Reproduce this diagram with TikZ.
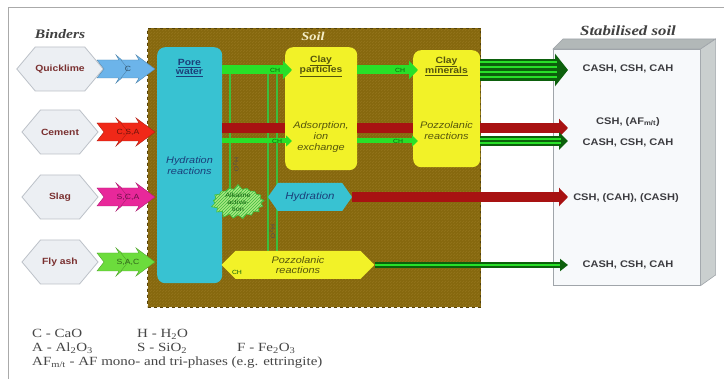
\documentclass[tikz,border=0pt]{standalone}
\usepackage{fontspec}
\setmainfont{Liberation Serif}[FakeStretch=1.2]
\newfontfamily\sfw{Liberation Sans}[FakeStretch=1.15]
\usetikzlibrary{shapes.symbols,shapes.geometric,arrows.meta,patterns,calc}
\definecolor{soilc}{RGB}{134,104,14}
\definecolor{soilh}{RGB}{148,117,28}
\definecolor{soild}{RGB}{80,62,8}
\definecolor{cyanb}{RGB}{56,194,210}
\definecolor{yel}{RGB}{242,242,40}
\definecolor{gbr}{RGB}{40,224,40}
\definecolor{gdk}{RGB}{12,96,12}
\definecolor{gln}{RGB}{60,190,60}
\definecolor{dred}{RGB}{168,18,18}
\definecolor{hexf}{RGB}{236,239,243}
\definecolor{hexd}{RGB}{188,193,200}
\definecolor{hext}{RGB}{122,48,48}
\definecolor{qlc}{RGB}{108,180,234}
\definecolor{cemc}{RGB}{240,40,24}
\definecolor{slagc}{RGB}{232,40,154}
\definecolor{flyc}{RGB}{108,220,60}
\definecolor{ssfront}{RGB}{247,249,251}
\definecolor{sstop}{RGB}{178,184,184}
\definecolor{ssside}{RGB}{202,207,207}
\definecolor{ssedge}{RGB}{160,165,170}
\definecolor{sstext}{RGB}{60,60,64}
\definecolor{legt}{RGB}{70,70,70}
\definecolor{framec}{RGB}{170,170,170}
\definecolor{alkf}{RGB}{170,230,130}
\definecolor{pwt}{RGB}{27,63,122}
\definecolor{clt}{RGB}{85,85,12}
\newcommand{\bindarr}[4]{%
  \begin{scope}[shift={(97,#1)}]
    \filldraw[fill=#2, draw=#2!75!black, line width=0.4pt] (0,-9) -- (22,-9) -- (19,-14) -- (35,0) -- (19,14) -- (22,9) -- (0,9) -- (7,0) -- cycle;
    \filldraw[fill=#2, draw=#2!75!black, line width=0.4pt] (24,-9) -- (42,-9) -- (39,-14) -- (58,0) -- (39,14) -- (42,9) -- (24,9) -- (31,0) -- cycle;
    \node[font={\sfw\fontsize{7.5}{8}\selectfont}, text=#2!45!black] (#4) at (31,0) {#3};
  \end{scope}}
\begin{document}
\begin{tikzpicture}[x=1pt,y=-1pt,
  hexb/.style={signal, signal to=east and west, signal pointer angle=100, fill=hexf, draw=hexd, line width=0.8pt, minimum width=76pt, minimum height=44pt, inner sep=0pt, font={\sfw\bfseries\fontsize{9}{10}\selectfont}, text=hext},
  rbox/.style={rounded corners=8pt, anchor=north west, inner sep=0pt},
  ttl/.style={font={\bfseries\itshape\fontsize{13}{15}\selectfont}, text=black!75},
  soilbox/.style={anchor=north west, minimum width=333pt, minimum height=279pt, fill=soilc, draw=soild, dashed, line width=1pt, inner sep=0pt, postaction={pattern=north east lines, pattern color=soilh}},
  vline/.style={draw=gln, line width=1.8pt},
  garr/.style={draw=gbr, line width=9pt, -{Triangle[length=9pt, width=18pt]}},
  gthin/.style={draw=gbr, line width=5pt, -{Triangle[length=6pt, width=11pt]}},
  rbar/.style={draw=dred, line width=10pt},
  rarr/.style={draw=dred, line width=10pt, -{Triangle[length=9pt, width=18pt]}},
  chl/.style={font={\sfw\fontsize{6}{6}\selectfont}, text=gdk, inner sep=0pt},
  pwtxt/.style={font={\sfw\bfseries\fontsize{9}{10}\selectfont}, text=pwt, align=center},
  ittxt/.style={font={\sfw\itshape\fontsize{9.5}{11}\selectfont}, align=center},
  sst/.style={font={\sfw\bfseries\fontsize{9.6}{11}\selectfont}, text=sstext},
  leg/.style={font={\fontsize{12.5}{13}\selectfont}, text=legt, inner sep=0pt, anchor=base west}
]
\useasboundingbox (0,0) rectangle (724,379);
\fill[white] (0,0) rectangle (724,379);
\draw[framec, line width=0.8pt] (8,379) -- (8,7) -- (724,7);

% titles
\node[ttl] (tbind) at (60,34) {Binders};
\node[ttl, font={\bfseries\itshape\fontsize{14}{16}\selectfont}] (tstab) at (628,31) {Stabilised soil};

% soil
\node[soilbox] (soil) at (147,28) {};
\node[font={\bfseries\itshape\fontsize{12}{14}\selectfont}, text={rgb,255:red,245;green,238;blue,200}] (tsoil) at (313,36) {Soil};

% rows
\coordinate (r1) at (0,70);
\coordinate (r2) at (0,128);
\coordinate (r3) at (0,141);
\coordinate (t1) at (568,70);
\coordinate (t2) at (568,128);
\coordinate (t3) at (568,141);
\coordinate (t4) at (568,197);
\coordinate (t5) at (568,265);

% vertical lines
\coordinate (va1) at (230,72); \coordinate (vb1) at (230,190);
\coordinate (va2) at (268,72); \coordinate (vb2) at (268,254);
\coordinate (va3) at (277,72); \coordinate (vb3) at (277,254);
\draw[vline] (va1) -- (vb1);
\draw[vline] (va2) -- (vb2);
\draw[vline] (va3) -- (vb3);

% boxes in soil
\node[rbox, fill=cyanb, minimum width=65pt, minimum height=236pt] (pw) at (157,47) {};
\node[rbox, fill=yel, minimum width=72pt, minimum height=123pt] (cp) at (285,47) {};
\node[rbox, fill=yel, minimum width=67pt, minimum height=117pt] (cm) at (413,50) {};
\node[pwtxt] (pwl) at (189.5,68) {\underline{Pore}\\[-1pt]\underline{water}};
\node[ittxt, text=pwt] (hrl) at (189.5,166) {Hydration\\reactions};
\node[pwtxt, text=clt] (cpl) at (321,66) {\underline{Clay}\\[-1pt]\underline{particles}};
\node[ittxt, text=clt] (cpt) at (321,137) {Adsorption,\\ion\\exchange};
\node[pwtxt, text=clt] (cml) at (446.5,66) {\underline{Clay}\\[-1pt]\underline{minerals}};
\node[ittxt, text=clt] (cmt) at (446.5,131) {Pozzolanic\\reactions};

% stabilised soil box
\node[anchor=north west, minimum width=147pt, minimum height=236pt, fill=ssfront, draw=ssedge, line width=0.6pt, inner sep=0pt] (ss) at (553,49) {};
\filldraw[fill=sstop, draw=ssedge, line width=0.6pt] (ss.north west) -- ++(10,-10) -- ++(152,0) -- (ss.north east) -- cycle;
\filldraw[fill=ssside, draw=ssedge, line width=0.6pt] (ss.north east) -- ++(15,-10) -- ++(0,236) -- (ss.south east) -- cycle;
\node[sst] (s1) at (628,69) {CASH, CSH, CAH};
\node[sst] (s2) at (628,122) {CSH, (AF\textsubscript{m/t})};
\node[sst] (s3) at (628,143) {CASH, CSH, CAH};
\node[sst] (s4) at (626,198) {CSH, (CAH), (CASH)};
\node[sst] (s5) at (628,265) {CASH, CSH, CAH};

% binders
\node[hexb] (q) at (60,69) {Quicklime};
\node[hexb] (c) at (60,132) {Cement};
\node[hexb] (s) at (60,197) {Slag};
\node[hexb] (f) at (60,262) {Fly ash};
\bindarr{69}{qlc}{C}{lq}
\bindarr{132}{cemc}{C,S,A}{lc}
\bindarr{197}{slagc}{S,C,A}{ls}
\bindarr{262}{flyc}{S,A,C}{lf}

% horizontal flows
\draw[garr, shorten >=-7pt] (pw.east |- r1) -- (cp.west |- r1);
\draw[garr, shorten >=-5pt] (cp.east |- r1) -- (cm.west |- r1);
\draw[rbar] (pw.east |- r2) -- (cp.west |- r2);
\draw[rbar] (cp.east |- r2) -- (cm.west |- r2);
\draw[gthin, shorten >=-7pt] (pw.east |- r3) -- (cp.west |- r3);
\draw[gthin, shorten >=-5pt] (cp.east |- r3) -- (cm.west |- r3);
\node[chl] (ch1) at (275,70) {CH};
\node[chl] (ch2) at (400,70) {CH};
\node[chl] (ch3) at (277,141) {CH};
\node[chl] (ch4) at (398,141) {CH};

% to stabilised soil
\draw[draw=gdk, line width=22pt, -{Triangle[length=13pt, width=32pt]}] (cm.east |- r1) -- (t1);
\foreach \d in {-7.5,-2.5,2.5,7.5}
  \draw[gbr, line width=2pt] ($(cm.east |- r1)+(0,\d)$) -- ($(t1)+(-11,\d)$);
\draw[rarr] (cm.east |- r2) -- (t2);
\draw[draw=gdk, line width=10pt, -{Triangle[length=9pt, width=17pt]}] (cm.east |- r3) -- (t3);
\foreach \d in {-2.2,2.2}
  \draw[gbr, line width=1.6pt] ($(cm.east |- r3)+(0,\d)$) -- ($(t3)+(-7,\d)$);

% lower part
\node[starburst, starburst points=17, starburst point height=5pt, random starburst=7, fill=alkf, draw=gln, line width=0.6pt, minimum width=56pt, minimum height=33pt, inner sep=0pt, align=center, text=gdk, font={\sfw\fontsize{6.3}{6.8}\selectfont}, postaction={pattern=north east lines, pattern color=gln}] (alk) at (238,202) {Alkaline\\activa-\\tion};
\node[signal, signal to=east and west, signal pointer angle=110, fill=cyanb, minimum width=84pt, minimum height=28pt, inner sep=0pt, font={\sfw\itshape\fontsize{10}{12}\selectfont}, text=pwt] (hyd) at (310,197) {Hydration};
\node[signal, signal to=east and west, signal pointer angle=90, fill=yel, minimum width=153pt, minimum height=28pt, inner sep=0pt, align=center, font={\sfw\itshape\fontsize{9.5}{10.5}\selectfont}, text=clt] (poz) at (298,265) {Pozzolanic\\reactions};
\draw[rarr] (hyd.east) -- (t4);
\draw[draw=gdk, line width=6pt, -{Triangle[length=8pt, width=12pt]}] (poz.east) -- (t5);
\draw[gbr, line width=1.2pt] (poz.east) -- ($(t5)+(-8,0)$);
\node[chl, text=black!70, rotate=-90] (h2a) at (236,165) {H$_2$O};
\node[chl, text=black!70, rotate=-90] (h2b) at (272.5,232) {H$_2$O};
\node[chl] (ch5) at (237,272) {CH};

% legend
\node[leg] (l1) at (32,338) {C - CaO};
\node[leg] (l2) at (137,338) {H - H\textsubscript{2}O};
\node[leg] (l3) at (32,352) {A - Al\textsubscript{2}O\textsubscript{3}};
\node[leg] (l4) at (137,352) {S - SiO\textsubscript{2}};
\node[leg] (l5) at (237,352) {F - Fe\textsubscript{2}O\textsubscript{3}};
\node[leg] (l6) at (32,366) {AF\textsubscript{m/t} - AF mono- and tri-phases (e.g. ettringite)};
\end{tikzpicture}
\end{document}
